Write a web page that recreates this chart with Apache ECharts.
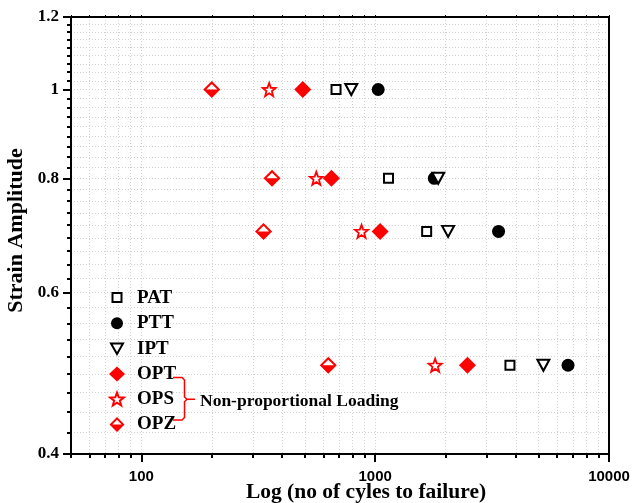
<!DOCTYPE html>
<html><head><meta charset="utf-8">
<script src="https://cdn.jsdelivr.net/npm/echarts@6/dist/echarts.min.js"></script>
<style>html,body{margin:0;padding:0;background:#fff}#c{width:634px;height:503px}</style>
</head><body><div id="c"></div>
<script>
// ---- data ----
const strainLevels = [1.0, 0.8, 0.7, 0.5];
const PAT = [680, 1140, 1660, 3770];
const PTT = [1030, 1790, 3370, 6680];
const IPT = [790, 1860, 2050, 5240];
const OPT = [490, 650, 1050, 2480];
const OPS = [352, 560, 874, 1805];
const OPZ = [200, 362, 333, 630];
const seriesNames = ['PAT', 'PTT', 'IPT', 'OPT', 'OPS', 'OPZ'];
const xTickLabels = [100, 1000, 10000];
const yTickLabels = [0.4, 0.6, 0.8, 1, 1.2];
const bracketLabel = 'Non-proportional Loading';
const xTitle = 'Log (no of cyles to failure)';
const yTitle = 'Strain Amplitude';

// ---- axis minor tick positions (style) ----
const xMinor = [];
[10, 100, 1000].forEach(d => { for (let m = 1; m <= 9; m++) { const v = m * d; if (v >= 50) xMinor.push(v); } });
xMinor.push(10000);
const yMinor = [];
for (let i = 0; i < yTickLabels.length - 1; i++) {
  const a = yTickLabels[i], b = yTickLabels[i + 1];
  for (let k = 0; k < 9; k++) yMinor.push(+(a + k * (b - a) / 9).toFixed(6));
}
yMinor.push(1.2);

function starPts() {
  const pts = [];
  for (let i = 0; i < 10; i++) {
    const r = i % 2 ? 21 : 50;
    const a = Math.PI / 5 * i - Math.PI / 2;
    pts.push([50 + r * Math.cos(a), 50 + r * Math.sin(a)]);
  }
  return 'M' + pts.map(p => p[0].toFixed(2) + ' ' + p[1].toFixed(2)).join(' L') + ' Z';
}
const starSym = 'path://' + starPts();
const halfDiamond = 'path://M50 0 L100 50 L50 100 L0 50 Z M50 17 L17 50 L83 50 Z';
const downTriangle = 'path://M0 0 L100 0 L50 90 Z';

// legend icons (16x15 box, padded so each glyph has its reference size)
const legendIcons = {
  PAT: 'path://M0 0 M3.5 2.5 L12.5 2.5 L12.5 11.5 L3.5 11.5 Z M16 15',
  PTT: 'path://M0 0 M2 7.5 A6 6 0 1 0 14 7.5 A6 6 0 1 0 2 7.5 Z M16 15',
  IPT: 'path://M0 0 M2 2.5 L14 2.5 L8 13 Z M16 15',
  OPT: 'diamond',
  OPS: 'path://M-6 -4 ' + starPts() + ' M106 96',
  OPZ: 'path://M50 0 L100 50 L50 100 L0 50 Z M50 19 L19 50 L81 50 Z'
};

const zip = xs => xs.map((x, i) => [x, strainLevels[i]]);
const RED = '#ff0000';
const serif = 'Liberation Serif';
const sans = 'Liberation Sans';

const styles = {
  PAT: { symbol: 'rect', symbolSize: 9, itemStyle: { color: '#fff', borderColor: '#000', borderWidth: 2, opacity: 1 } },
  PTT: { symbol: 'circle', symbolSize: 13, itemStyle: { color: '#000', opacity: 1 } },
  IPT: { symbol: downTriangle, symbolSize: [12, 11], itemStyle: { color: '#fff', borderColor: '#000', borderWidth: 2, opacity: 1 } },
  OPT: { symbol: 'diamond', symbolSize: 17, itemStyle: { color: RED, opacity: 1 } },
  OPS: { symbol: starSym, symbolSize: 13, itemStyle: { color: '#fff', borderColor: RED, borderWidth: 1.8, opacity: 1 } },
  OPZ: { symbol: halfDiamond, symbolSize: 17, itemStyle: { color: RED, opacity: 1 } }
};
const values = { PAT, PTT, IPT, OPT, OPS, OPZ };

const series = seriesNames.map(n => Object.assign({
  name: n, type: 'scatter', xAxisIndex: 0, yAxisIndex: 0,
  data: zip(values[n]), emphasis: { disabled: true }, silent: true
}, styles[n]));

const black = '#000';
const gridLine = { show: true, lineStyle: { color: '#d2d2d2', width: 1, type: [1, 2] } };
const xBase = { type: 'log', logBase: 10, min: 50, max: 10000, gridIndex: 0 };
const yBase = { type: 'log', logBase: 10, min: 0.4, max: 1.2, gridIndex: 0 };

const option = {
  animation: false,
  backgroundColor: '#fff',
  grid: { left: 71, right: 25, top: 17, bottom: 49, containLabel: false, outerBoundsMode: 'none' },
  xAxis: [
    Object.assign({}, xBase, {
      position: 'bottom',
      axisLine: { show: true, onZero: false, lineStyle: { color: black, width: 2 } },
      axisTick: { show: true, inside: false, length: 4, customValues: xMinor, lineStyle: { color: black, width: 2 } },
      axisLabel: { show: true, customValues: xTickLabels, margin: 15, formatter: v => String(Math.round(v)),
        fontFamily: sans, fontWeight: 'bold', fontSize: 15, color: black },
      splitLine: gridLine,
      name: xTitle, nameLocation: 'middle', nameGap: 27, nameMoveOverlap: false,
      nameTextStyle: { fontFamily: serif, fontWeight: 'bold', fontSize: 21.5, color: black, padding: [0, 0, 0, 52] }
    }),
    Object.assign({}, xBase, {
      position: 'bottom',
      axisLine: { show: false, onZero: false },
      axisTick: { show: true, length: 8, customValues: xTickLabels, lineStyle: { color: black, width: 2 } },
      axisLabel: { show: false }, splitLine: { show: false }
    }),
    Object.assign({}, xBase, {
      position: 'top',
      axisLine: { show: true, onZero: false, lineStyle: { color: black, width: 2 } },
      axisTick: { show: true, length: 2, customValues: xMinor, lineStyle: { color: black, width: 1 } },
      axisLabel: { show: false }, splitLine: { show: false }
    })
  ],
  yAxis: [
    Object.assign({}, yBase, {
      position: 'left',
      axisLine: { show: true, onZero: false, lineStyle: { color: black, width: 2 } },
      axisTick: { show: true, inside: false, length: 4, customValues: yMinor, lineStyle: { color: black, width: 2 } },
      axisLabel: { show: true, customValues: yTickLabels, margin: 12, formatter: v => String(+(+v).toFixed(2)),
        fontFamily: serif, fontWeight: 'bold', fontSize: 17, color: black },
      splitLine: gridLine,
      name: yTitle, nameLocation: 'middle', nameGap: 44, nameMoveOverlap: false,
      nameTextStyle: { fontFamily: serif, fontWeight: 'bold', fontSize: 22, color: black, padding: [0, 0, 0, 10] }
    }),
    Object.assign({}, yBase, {
      position: 'left',
      axisLine: { show: false, onZero: false },
      axisTick: { show: true, length: 8, customValues: yTickLabels, lineStyle: { color: black, width: 2 } },
      axisLabel: { show: false }, splitLine: { show: false }
    }),
    Object.assign({}, yBase, {
      position: 'right',
      axisLine: { show: true, onZero: false, lineStyle: { color: black, width: 2 } },
      axisTick: { show: false }, axisLabel: { show: false }, splitLine: { show: false }
    })
  ],
  legend: {
    orient: 'vertical', left: 103, top: 283, itemWidth: 16, itemHeight: 15, itemGap: 5.3,
    selectedMode: false,
    data: seriesNames.map(n => ({ name: n, icon: legendIcons[n] })),
    textStyle: { fontFamily: serif, fontWeight: 'bold', fontSize: 19, color: black, lineHeight: 20, padding: [0, 0, 0, 7] }
  },
  graphic: [
    { type: 'polyline', silent: true, z: 100,
      shape: { points: [[173, 377.5], [182, 377.5], [184.5, 380], [184.5, 397], [187, 399.3], [195, 399.3]] },
      style: { stroke: RED, lineWidth: 1.5, fill: null } },
    { type: 'polyline', silent: true, z: 100,
      shape: { points: [[187, 399.3], [184.5, 401.8], [184.5, 417.5], [182, 420], [173, 420]] },
      style: { stroke: RED, lineWidth: 1.5, fill: null } },
    { type: 'text', silent: true, z: 100, x: 200, y: 401,
      style: { text: bracketLabel, font: 'bold 17.5px "Liberation Serif"', fill: black, verticalAlign: 'middle', align: 'left' } }
  ],
  series
};

const chart = echarts.init(document.getElementById('c'), null, { renderer: 'canvas' });
chart.setOption(option);
</script></body></html>
